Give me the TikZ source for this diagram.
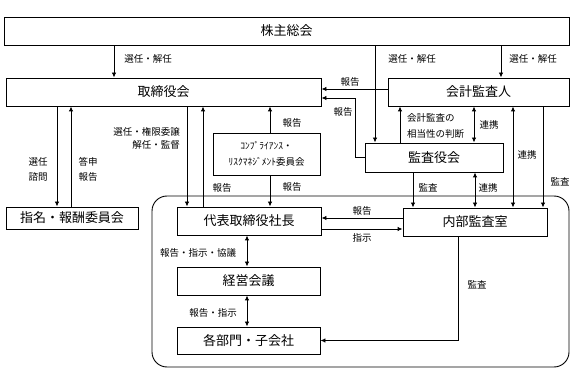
\documentclass[tikz,border=0pt]{standalone}
\usepackage{fontspec}
\setmainfont{Noto Sans CJK JP}
\usetikzlibrary{arrows.meta}
\begin{document}
\begin{tikzpicture}[x=1pt,y=-1pt,
  box/.style={draw, line width=0.9pt, inner sep=0pt, fill=white, font=\fontsize{13}{15}\selectfont},
  lbl/.style={inner sep=0pt, font=\fontsize{9.5}{11}\selectfont},
  arr/.style={line width=0.9pt, -{Latex[length=5pt,width=4.5pt]}},
  darr/.style={line width=0.9pt, {Latex[length=5pt,width=4.5pt]}-{Latex[length=5pt,width=4.5pt]}},
  ln/.style={line width=0.9pt}]
\fill[white] (0,0) rectangle (579,382);
\useasboundingbox (0,0) rectangle (579,382);

% group frame
\node[draw, line width=0.9pt, rounded corners=15pt, minimum width=417pt, minimum height=171pt, inner sep=0pt] (grp) at (360.5,281.5) {};

% boxes
\node[box, minimum width=565pt, minimum height=28pt] (kabu) at (286.5,31) {株主総会};
\node[box, minimum width=315pt, minimum height=28pt] (tori) at (163.5,92) {取締役会};
\node[box, minimum width=181pt, minimum height=28pt] (kaikei) at (478.5,92) {会計監査人};
\node[box, minimum width=138pt, minimum height=29pt] (kansa) at (434,157.5) {監査役会};
\node[box, minimum width=144pt, minimum height=28pt] (naibu) at (475,222) {内部監査室};
\node[box, minimum width=144pt, minimum height=28pt] (daihyo) at (249,221) {代表取締役社長};
\node[box, minimum width=143pt, minimum height=28pt] (keiei) at (248.5,281) {経営会議};
\node[box, minimum width=143pt, minimum height=27pt] (kakubu) at (248.5,340.5) {各部門・子会社};
\node[box, minimum width=132pt, minimum height=22pt] (shimei) at (72,218) {指名・報酬委員会};
\node[box, minimum width=107pt, minimum height=42pt, align=center, font=\fontsize{9.5}{16}\selectfont] (comp) at (266.5,154) {ｺﾝﾌﾟﾗｲｱﾝｽ・\\ﾘｽｸﾏﾈｼﾞﾒﾝﾄ委員会};

% helper coordinates
\foreach \xx in {57,71,114,187,203,247,270,355,375,400,413,458,474,475,501,513,543}
  \coordinate (x\xx) at (\xx,0);
\foreach \yy in {89,98,218,229}
  \coordinate (y\yy) at (0,\yy);

% connectors
\draw[arr] (kabu.south -| x114) -- (tori.north -| x114);
\draw[arr] (kabu.south -| x375) -- (kansa.north -| x375);
\draw[arr] (kabu.south -| x501) -- (kaikei.north -| x501);
\draw[arr] (kaikei.west |- y89) -- (tori.east |- y89);
\draw[arr] (kansa.west) -| (x355 |- y98) -- (tori.east |- y98);
\draw[arr] (tori.south -| x57) -- (shimei.north -| x57);
\draw[arr] (shimei.north -| x71) -- (tori.south -| x71);
\draw[arr] (tori.south -| x187) -- (daihyo.north -| x187);
\draw[arr] (daihyo.north -| x203) -- (tori.south -| x203);
\draw[arr] (comp.north -| x270) -- (tori.south -| x270);
\draw[arr] (comp.south -| x270) -- (daihyo.north -| x270);
\draw[arr] (kansa.north -| x400) -- (kaikei.south -| x400);
\draw[darr] (kansa.north -| x474) -- (kaikei.south -| x474);
\draw[darr] (kaikei.south -| x513) -- (naibu.north -| x513);
\draw[arr] (kaikei.south -| x543) -- (naibu.north -| x543);
\draw[arr] (kansa.south -| x413) -- (naibu.north -| x413);
\draw[darr] (kansa.south -| x475) -- (naibu.north -| x475);
\draw[arr] (naibu.west |- y218) -- (daihyo.east |- y218);
\draw[arr] (daihyo.east |- y229) -- (naibu.west |- y229);
\draw[darr] (daihyo.south -| x247) -- (keiei.north -| x247);
\draw[darr] (keiei.south -| x247) -- (kakubu.north -| x247);
\draw[arr] (naibu.south -| x458) |- (kakubu.east);

% labels
\node[lbl] (l1) at (148,59) {選任・解任};
\node[lbl] (l2) at (412,59) {選任・解任};
\node[lbl] (l3) at (533,59) {選任・解任};
\node[lbl] (l4) at (350,82) {報告};
\node[lbl] (l5) at (343,112) {報告};
\node[lbl] (l6) at (38,162) {選任};
\node[lbl] (l7) at (38,177) {諮問};
\node[lbl] (l8) at (88,162) {答申};
\node[lbl] (l9) at (88,177) {報告};
\node[lbl, anchor=east] (l10) at (180,132) {選任・権限委譲};
\node[lbl, anchor=east] (l11) at (180,145) {解任・監督};
\node[lbl] (l12) at (222,188) {報告};
\node[lbl] (l13) at (292,123) {報告};
\node[lbl] (l14) at (292,187) {報告};
\node[lbl, anchor=west] (l15) at (407,118) {会計監査の};
\node[lbl, anchor=west] (l16) at (407,134) {相当性の判断};
\node[lbl] (l17) at (489,125) {連携};
\node[lbl] (l18) at (527,155) {連携};
\node[lbl] (l19) at (560,182) {監査};
\node[lbl] (l20) at (428,188) {監査};
\node[lbl] (l21) at (488,188) {連携};
\node[lbl] (l22) at (362,211) {報告};
\node[lbl] (l23) at (362,238) {指示};
\node[lbl] (l24) at (198,253) {報告・指示・協議};
\node[lbl] (l25) at (213,313) {報告・指示};
\node[lbl] (l26) at (477,285) {監査};
\end{tikzpicture}
\end{document}
